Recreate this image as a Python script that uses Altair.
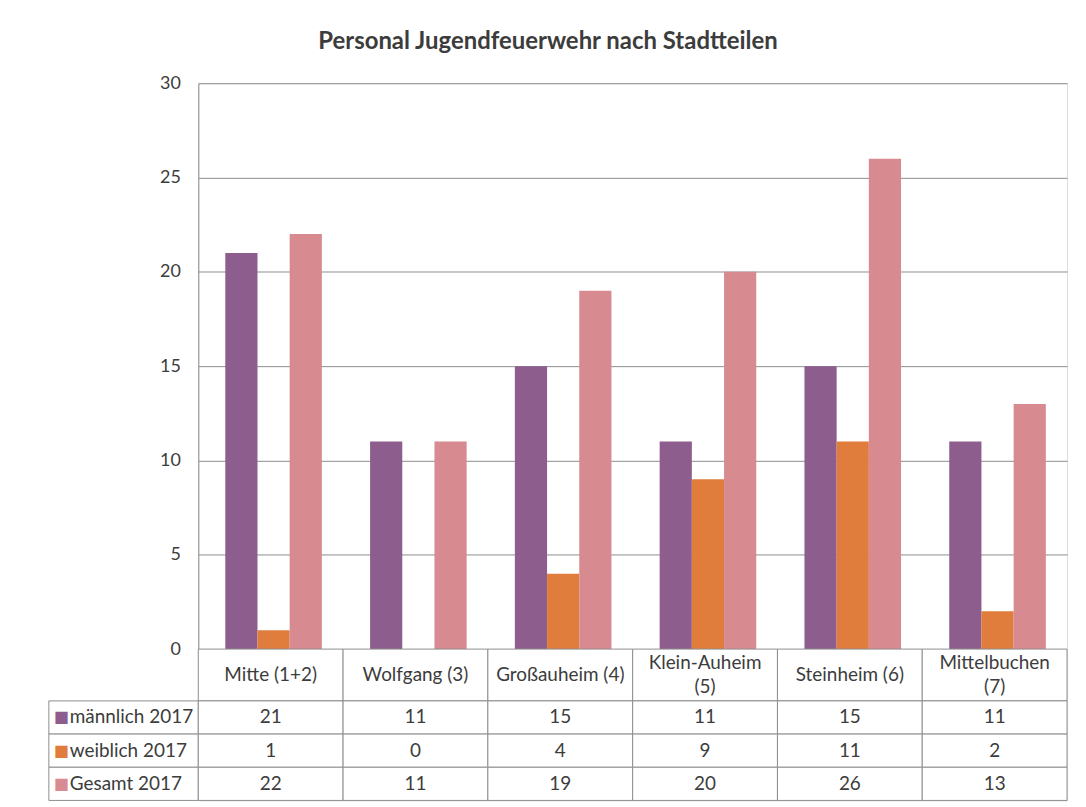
import altair as alt
import pandas as pd

# ---------------- data ----------------
title = "Personal Jugendfeuerwehr nach Stadtteilen"
categories = ["Mitte (1+2)", "Wolfgang (3)", "Großauheim (4)",
              "Klein-Auheim (5)", "Steinheim (6)", "Mittelbuchen (7)"]
header_labels = ["Mitte (1+2)", "Wolfgang (3)", "Großauheim (4)",
                 "Klein-Auheim\n(5)", "Steinheim (6)", "Mittelbuchen\n(7)"]
series = ["männlich 2017", "weiblich 2017", "Gesamt 2017"]
maennlich = [21, 11, 15, 11, 15, 11]
weiblich = [1, 0, 4, 9, 11, 2]
gesamt = [22, 11, 19, 20, 26, 13]
y_ticks = [0, 5, 10, 15, 20, 25, 30]

# ---------------- styles ----------------
colors = ["#8d5e8d", "#e07d3c", "#d78a90"]
line_col = "#8e8e8e"
text_col = "#3c3c3c"
FONT = "Lato"
PLOT_W, PLOT_H = 872, 568
HEADER_H, ROW_H = 52, 33.3
LINE_H = 24
TBL_FS = 19
LABEL_COL = 150 / (PLOT_W / len(categories))  # label column width in column units

series_values = [maennlich, weiblich, gesamt]
bar_rows = []
for s, vals in zip(series, series_values):
    for c, v in zip(categories, vals):
        bar_rows.append({"Stadtteil": c, "Serie": s, "Anzahl": v})
bars_df = pd.DataFrame(bar_rows)

# ---------------- top: bar chart ----------------
bars = alt.Chart(bars_df).mark_bar().encode(
    x=alt.X("Stadtteil:N", sort=categories, axis=None,
            scale=alt.Scale(paddingInner=0.333, paddingOuter=0.1665, align=0.56)),
    xOffset=alt.XOffset("Serie:N", sort=series,
                        scale=alt.Scale(paddingInner=0, paddingOuter=0)),
    y=alt.Y("Anzahl:Q", title=None,
            scale=alt.Scale(domain=[0, 30], nice=False),
            axis=alt.Axis(values=y_ticks, ticks=False, domain=True,
                          domainColor=line_col, gridColor=line_col,
                          labelFontSize=18, labelColor=text_col,
                          labelPadding=18, labelFont=FONT)),
    color=alt.Color("Serie:N", sort=series, legend=None,
                    scale=alt.Scale(domain=series, range=colors)),
).properties(width=PLOT_W, height=PLOT_H)

# ---------------- bottom: data table ----------------
cells = []
header_txt = []
value_txt = []
label_txt = []
for i, lab in enumerate(header_labels):
    cells.append({"x0": i, "x1": i + 1, "y0": 0, "y1": HEADER_H})
    lines = lab.split("\n")
    n = len(lines)
    for k, line in enumerate(lines):
        header_txt.append({"x": i + 0.5,
                           "y": HEADER_H / 2 + (k - (n - 1) / 2) * LINE_H,
                           "t": line})
for r, (s, vals) in enumerate(zip(series, series_values)):
    y0 = HEADER_H + r * ROW_H
    y1 = y0 + ROW_H
    cells.append({"x0": -LABEL_COL, "x1": 0, "y0": y0, "y1": y1})
    label_txt.append({"x": -LABEL_COL, "y": (y0 + y1) / 2, "t": s})
    for i, v in enumerate(vals):
        cells.append({"x0": i, "x1": i + 1, "y0": y0, "y1": y1})
        value_txt.append({"x": i + 0.5, "y": (y0 + y1) / 2, "t": str(v)})

TBL_H = HEADER_H + 3 * ROW_H
xs = alt.Scale(domain=[0, len(categories)], nice=False, zero=False)
ys = alt.Scale(domain=[0, TBL_H], nice=False, zero=False, reverse=True)

cell_layer = alt.Chart(pd.DataFrame(cells)).mark_rect(
    fill="white", stroke=line_col, strokeWidth=1
).encode(
    x=alt.X("x0:Q", scale=xs, axis=None), x2="x1:Q",
    y=alt.Y("y0:Q", scale=ys, axis=None), y2="y1:Q",
)

header_layer = alt.Chart(pd.DataFrame(header_txt)).mark_text(
    fontSize=TBL_FS, color=text_col, font=FONT, baseline="middle"
).encode(
    x=alt.X("x:Q", scale=xs, axis=None), y=alt.Y("y:Q", scale=ys, axis=None),
    text="t:N",
)

value_layer = alt.Chart(pd.DataFrame(value_txt)).mark_text(
    fontSize=TBL_FS, color=text_col, font=FONT, baseline="middle"
).encode(
    x=alt.X("x:Q", scale=xs, axis=None), y=alt.Y("y:Q", scale=ys, axis=None),
    text="t:N",
)

swatch_layer = alt.Chart(pd.DataFrame(label_txt)).mark_text(
    text="■", fontSize=16, align="left", dx=5, baseline="middle", font="DejaVu Sans"
).encode(
    x=alt.X("x:Q", scale=xs, axis=None), y=alt.Y("y:Q", scale=ys, axis=None),
    color=alt.Color("t:N", sort=series, legend=None,
                    scale=alt.Scale(domain=series, range=colors)),
)

label_layer = alt.Chart(pd.DataFrame(label_txt)).mark_text(
    fontSize=TBL_FS, color=text_col, font=FONT, align="left", dx=21, baseline="middle"
).encode(
    x=alt.X("x:Q", scale=xs, axis=None), y=alt.Y("y:Q", scale=ys, axis=None),
    text="t:N",
)

table = alt.layer(cell_layer, header_layer, value_layer, swatch_layer, label_layer
                  ).properties(width=PLOT_W, height=TBL_H)

chart = alt.vconcat(
    bars, table, spacing=0, bounds="flush",
    title=alt.TitleParams(title, fontSize=24, fontWeight="bold", color=text_col,
                          font=FONT, anchor="middle", offset=20, dx=-10),
    padding={"left": 40, "top": 20, "right": 10, "bottom": 5},
).configure_view(stroke=None).configure(font=FONT, background="white")

chart.save("out.html", embed_options={"renderer": "svg", "actions": False})
